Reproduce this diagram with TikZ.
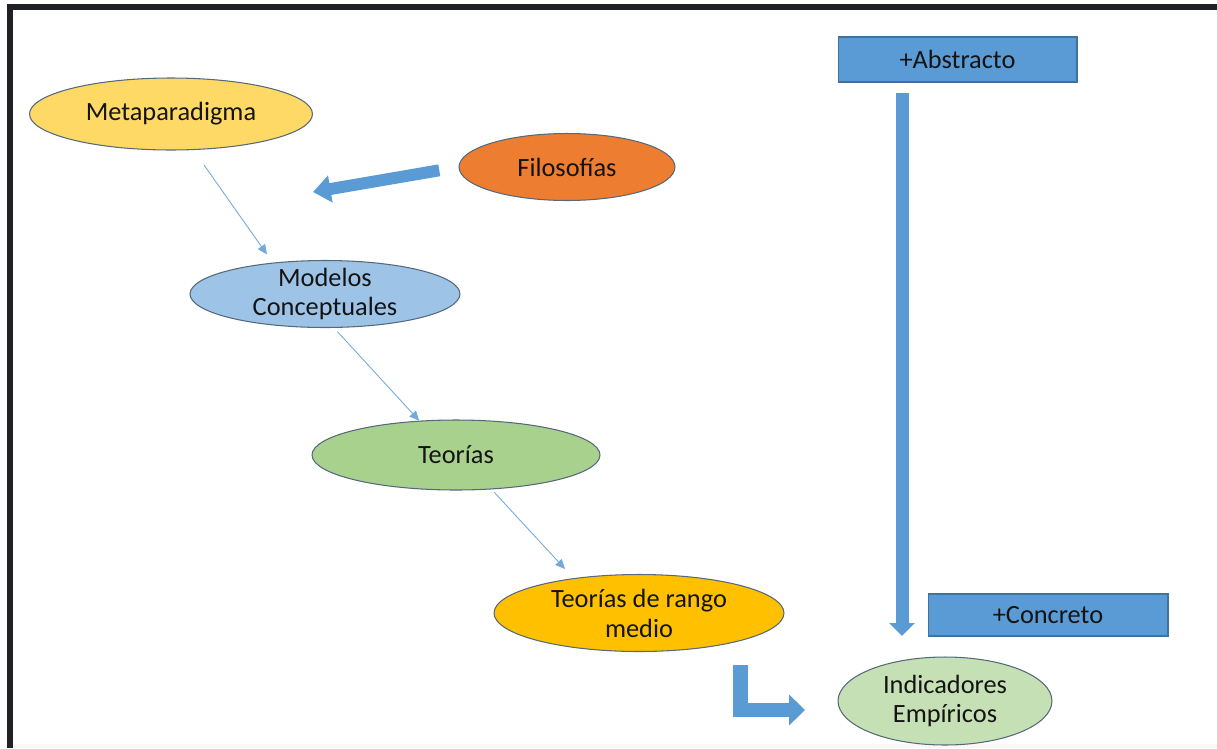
\documentclass[tikz,border=0pt]{standalone}
\usepackage{fontspec}
\setmainfont{Carlito}
\usepackage{xcolor}
\usetikzlibrary{shapes.geometric, arrows.meta}

\definecolor{metayellow}{HTML}{FFD966}
\definecolor{filoorange}{HTML}{ED7D31}
\definecolor{modblue}{HTML}{9DC3E6}
\definecolor{teogreen}{HTML}{A9D18E}
\definecolor{rangogold}{HTML}{FFC000}
\definecolor{indgreen}{HTML}{C5E0B4}
\definecolor{boxblue}{HTML}{5B9BD5}
\definecolor{boxedge}{HTML}{41719C}
\definecolor{ovaledge}{HTML}{55697A}
\definecolor{framedark}{HTML}{202124}
\definecolor{textdark}{HTML}{141414}
\definecolor{stripgray}{HTML}{FAF8F5}

\begin{document}
\begin{tikzpicture}[
    x=0.02cm, y=-0.02cm,
    oval/.style={ellipse, draw=ovaledge, line width=0.6pt, align=center, inner xsep=2pt, inner ysep=-3pt, text=textdark, font=\fontsize{15}{17}\selectfont},
    tag/.style={rectangle, draw=boxedge, line width=0.6pt, fill=boxblue, text=textdark, inner sep=0pt, font=\fontsize{15}{17}\selectfont},
    thinarrow/.style={-{Triangle[width=5pt,length=5.5pt]}, boxblue!85, line width=0.5pt},
    blockarrow/.style={boxblue, line width=7.4pt}
]
\useasboundingbox (0,0) rectangle (1217,748);

% Frame
\fill[framedark] (7,4) rectangle (1217,10);
\fill[framedark] (7,4) rectangle (13,748);
\fill[stripgray] (13,744) rectangle (1217,748);

% Ovals
\node[oval, fill=metayellow, minimum width=5.66cm, minimum height=1.44cm] (meta) at (171,114) {Metaparadigma};
\node[oval, fill=filoorange, minimum width=4.32cm, minimum height=1.34cm] (filo) at (567,167) {Filosofías};
\node[oval, fill=modblue, minimum width=5.4cm, minimum height=1.34cm] (modelos) at (325,294) {Modelos\\Conceptuales};
\node[oval, fill=teogreen, minimum width=5.76cm, minimum height=1.4cm] (teorias) at (456,455) {Teorías};
\node[oval, fill=rangogold, minimum width=5.8cm, minimum height=1.54cm] (rango) at (639,613) {Teorías de rango\\medio};
\node[oval, fill=indgreen, minimum width=4.28cm, minimum height=1.76cm] (indicadores) at (945,701) {Indicadores\\Empíricos};

% Scale boxes
\node[tag, minimum width=4.78cm, minimum height=0.9cm] (abstracto) at (957.5,59.5) {+Abstracto};
\node[tag, minimum width=4.8cm, minimum height=0.84cm] (concreto) at (1048,615) {+Concreto};

% Thin arrows
\draw[thinarrow, shorten <=0.37cm, shorten >=0.2cm] (meta.302) -- (modelos.149);
\draw[thinarrow, shorten <=0.1cm] (modelos.285) -- (teorias.137);
\draw[thinarrow, shorten <=0.08cm, shorten >=0.25cm] (teorias.316) -- (rango.152);

% Block arrows
\coordinate (filotip) at (313,192);
\coordinate (vtop) at (902,93);
\coordinate (vtip) at (902,636);
\coordinate (lstart) at (740.5,665);
\coordinate (lend) at (805,710);
\draw[blockarrow, line width=6.8pt, -{Triangle[width=15pt,length=10pt]}, shorten <=0.39cm] (filo.west) -- (filotip);
\draw[blockarrow, -{Triangle[width=14.2pt,length=7.4pt]}] (vtop) -- (vtip);
\draw[blockarrow, line width=8pt, line join=miter, -{Triangle[width=17pt,length=9pt]}] (lstart) |- (lend);

\end{tikzpicture}
\end{document}
